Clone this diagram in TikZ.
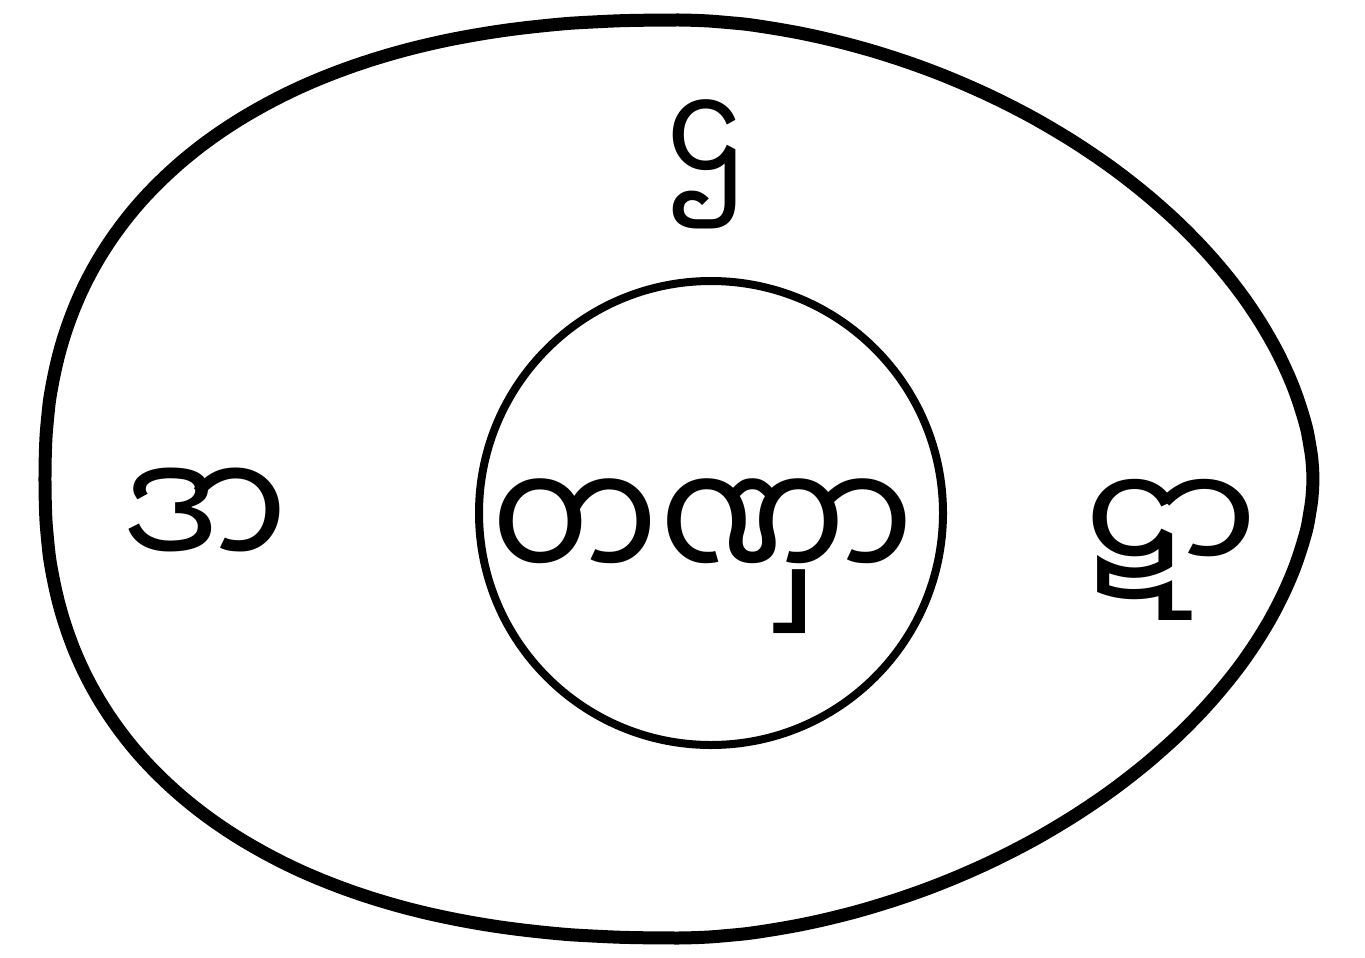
\documentclass[tikz,border=0pt]{standalone}
\usepackage{fontspec}
\newfontfamily\mya[Script=Myanmar]{Noto Sans Myanmar UI}
\tikzset{
  egg/.style={draw=black,line width=13pt,line join=round},
  ring/.style={circle,draw=black,line width=8pt,inner sep=0pt,minimum size=464pt},
  lbl/.style={inner sep=0pt,anchor=base,text=black},
}
\begin{document}
\begin{tikzpicture}[x=1pt,y=-1pt]
\useasboundingbox[fill=white] (0,0) rectangle (1365,958);
% outer egg: left half fuller (n=2.3), right half narrower (n=1.8)
\draw[egg]
  plot[smooth,samples=50,domain=0.001:89.999,variable=\t]
    ({679-634*pow(cos(\t),2/2.3)},{479-459*pow(sin(\t),2/2.3)})
  -- plot[smooth,samples=50,domain=89.999:0.001,variable=\t]
    ({679+634*pow(cos(\t),2/1.8)},{479-459*pow(sin(\t),2/1.8)})
  -- plot[smooth,samples=50,domain=0.001:89.999,variable=\t]
    ({679+634*pow(cos(\t),2/1.8)},{479+459*pow(sin(\t),2/1.8)})
  -- plot[smooth,samples=50,domain=89.999:0.001,variable=\t]
    ({679-634*pow(cos(\t),2/2.3)},{479+459*pow(sin(\t),2/2.3)})
  -- cycle;
% inner circle
\node[ring] (inner) at (711,513) {};
% labels
\node[lbl,font=\mya\fontsize{142}{170}\selectfont] (top) at (707,190) {\scalebox{0.86}[1]{ဌ}};
\node[lbl,font=\mya\fontsize{168}{200}\selectfont] (left) at (205,575) {\scalebox{0.9}[1]{ဒာ}};
\node[lbl,font=\mya\fontsize{155}{185}\selectfont] (right) at (1171,578) {ဋာ};
\node[lbl,font=\mya\fontsize{170}{200}\selectfont] (centre) at (703,587) {\scalebox{0.875}[1]{တဏှာ}};
\end{tikzpicture}
\end{document}
